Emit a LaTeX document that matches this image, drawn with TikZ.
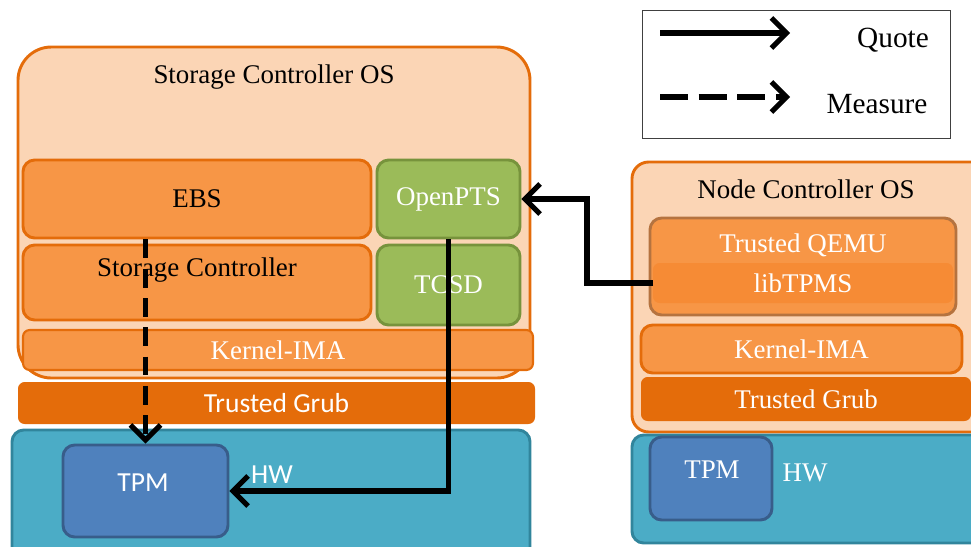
\documentclass[tikz,border=0pt]{standalone}
\usepackage{fontspec}
\setmainfont{Liberation Serif}
\newfontfamily\calibri{Carlito}
\usetikzlibrary{arrows.meta}

\definecolor{peach}{HTML}{FBD5B5}
\definecolor{orline}{HTML}{E46C0A}
\definecolor{orfill}{HTML}{F79646}
\definecolor{libfill}{HTML}{F68B35}
\definecolor{brownline}{HTML}{B5733F}
\definecolor{grfill}{HTML}{9BBB59}
\definecolor{grline}{HTML}{77933C}
\definecolor{hwfill}{HTML}{4BACC6}
\definecolor{hwline}{HTML}{31859C}
\definecolor{tpmfill}{HTML}{4F81BD}
\definecolor{tpmline}{HTML}{385D8A}

\begin{document}
\begin{tikzpicture}[x=0.03cm, y=-0.03cm,
  blk/.style 2 args={rectangle, inner sep=0pt, minimum width=#1*\pxu, minimum height=#2*\pxu, rounded corners=0.35cm, line width=2.5pt},
  txt/.style={font=\fontsize{23}{27}\selectfont},
  wtxt/.style={txt, text=white},
  stxt/.style={font=\calibri\fontsize{23.5}{28}\selectfont, text=white},
  quote/.style={line width=4.3pt, -{Straight Barb[length=4.5mm,width=9mm]}},
  measure/.style={quote, dash pattern=on 16pt off 9pt}]

% drawing dimensions
\newcommand{\pxu}{0.03cm}

% page frame
\clip (0,0) rectangle (971,546);

% storage controller side
\node[blk={512}{331}, rounded corners=1cm, draw=orline, fill=peach] (osL) at (274,212.5) {};
\node[txt] (osLtxt) at (274,77) {Storage Controller OS};
\node[blk={348}{78}, draw=orline, fill=orfill, txt] (ebs) at (197,199) {EBS};
\node[blk={348}{75}, draw=orline, fill=orfill] (sc) at (197,282.5) {};
\node[txt] (sctxt) at (197,270) {Storage Controller};
\node[blk={143}{78}, draw=grline, fill=grfill, wtxt] (openpts) at (448.5,199) {OpenPTS};
\node[blk={143}{80}, draw=grline, fill=grfill, wtxt] (tcsd) at (448.5,285) {TCSD};
\node[blk={510}{40}, line width=1.8pt, rounded corners=0.2cm, draw=orline, fill=orfill, wtxt] (imaL) at (278,350) {Kernel-IMA};
\node[blk={517}{42}, rounded corners=0.2cm, fill=orline, stxt] (grubL) at (276.5,403) {Trusted Grub};
\node[blk={518}{130}, draw=hwline, fill=hwfill] (hwL) at (271,495) {};
\node[blk={165}{92}, draw=tpmline, fill=tpmfill] (tpmL) at (145.5,491) {};
\node[stxt] (tpmLtxt) at (143,483) {TPM};
\node[stxt] (hwLtxt) at (272,475) {HW};

% node controller side
\node[blk={358}{270}, rounded corners=0.5cm, draw=orline, fill=peach] (osR) at (811,297) {};
\node[txt] (osRtxt) at (806,189) {Node Controller OS};
\node[blk={306}{97}, draw=brownline, fill=orfill] (qemu) at (803,266.5) {};
\node[blk={300}{40}, line width=0pt, rounded corners=0.2cm, fill=libfill, wtxt] (libtpms) at (803,283) {libTPMS};
\node[wtxt] (qemutxt) at (803,245) {Trusted QEMU};
\node[blk={321}{48}, draw=orline, fill=orfill, wtxt] (imaR) at (801.5,349) {Kernel-IMA};
\node[blk={330}{44}, rounded corners=0.2cm, fill=orline, wtxt] (grubR) at (806,399) {Trusted Grub};
\node[blk={358}{108}, draw=hwline, fill=hwfill] (hwR) at (811,489) {};
\node[blk={122}{83}, draw=tpmline, fill=tpmfill] (tpmR) at (711,478.5) {};
\node[wtxt] (tpmRtxt) at (712,470) {TPM};
\node[wtxt] (hwRtxt) at (805,473) {HW};

% connectors
\draw[measure] (tpmL.north |- ebs.south) -- (tpmL.north);
\draw[quote] (openpts.south) |- (tpmL.east);
\draw[quote] (libtpms.west) -- ++(-66,0) |- (openpts.east);

% legend
\node[rectangle, draw=black!75, line width=0.8pt, fill=white, minimum width=308*\pxu, minimum height=128*\pxu] (legend) at (796,74) {};
\coordinate (q1) at (660,33);
\coordinate (q2) at (790,33);
\coordinate (m1) at (660,97);
\coordinate (m2) at (790,97);
\draw[quote] (q1) -- (q2);
\draw[measure, dash pattern=on 24pt off 9pt] (m1) -- (m2);
\node[font=\fontsize{25}{29}\selectfont] (quotetxt) at (893,40) {Quote};
\node[font=\fontsize{25}{29}\selectfont] (measuretxt) at (877,104) {Measure};

\end{tikzpicture}
\end{document}
